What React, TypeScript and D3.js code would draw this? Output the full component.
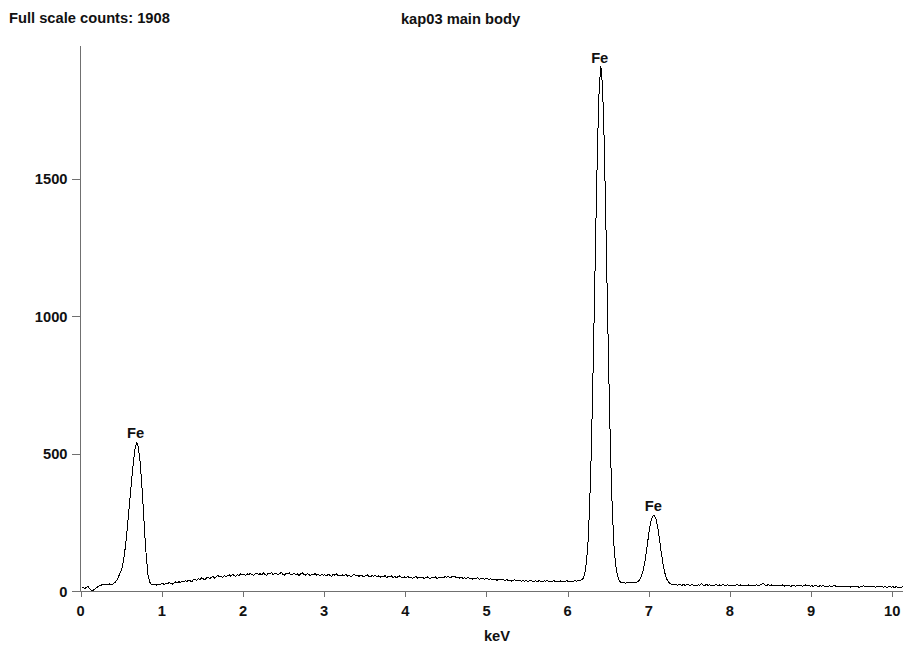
import React from "react";
import * as d3 from "d3";

// Spectrum channels: energy of channel i = START_KEV + i * STEP_KEV
const START_KEV = 0.01;
const STEP_KEV = 0.02;

const counts: number[] = [
  // 0.01 - 0.19
  10, 12, 9, 14, 16, 8, 3, 2, 6, 11,
  // 0.21 - 0.39
  15, 19, 21, 24, 22, 25, 23, 26, 24, 22,
  // 0.41 - 0.59
  28, 33, 42, 55, 68, 85, 115, 160, 215, 280,
  // 0.61 - 0.79
  345, 410, 470, 518, 542, 525, 475, 400, 305, 205,
  // 0.81 - 0.99
  118, 58, 32, 24, 22, 25, 21, 24, 23, 26,
  // 1.01 - 1.19
  27, 24, 29, 26, 31, 28, 25, 30, 33, 29,
  // 1.21 - 1.39
  34, 31, 36, 33, 38, 35, 40, 37, 34, 41,
  // 1.41 - 1.59
  43, 39, 45, 42, 48, 44, 41, 47, 50, 45,
  // 1.61 - 1.79
  49, 53, 47, 52, 56, 51, 54, 49, 57, 53,
  // 1.81 - 1.99
  55, 59, 54, 61, 57, 52, 60, 56, 62, 58,
  // 2.01 - 2.19
  61, 57, 63, 59, 64, 60, 56, 62, 65, 60,
  // 2.21 - 2.39
  63, 59, 66, 61, 57, 64, 62, 67, 60, 63,
  // 2.41 - 2.59
  65, 60, 63, 68, 61, 58, 64, 62, 66, 59,
  // 2.61 - 2.79
  61, 65, 59, 63, 57, 62, 66, 60, 58, 63,
  // 2.81 - 2.99
  60, 56, 62, 59, 64, 57, 61, 55, 60, 58,
  // 3.01 - 3.19
  59, 55, 61, 57, 53, 60, 58, 62, 56, 58,
  // 3.21 - 3.39
  55, 59, 56, 61, 54, 58, 52, 57, 60, 55,
  // 3.41 - 3.59
  57, 53, 58, 55, 51, 56, 59, 54, 52, 56,
  // 3.61 - 3.79
  53, 57, 51, 55, 50, 54, 52, 56, 49, 53,
  // 3.81 - 3.99
  51, 55, 49, 53, 48, 52, 55, 50, 47, 51,
  // 4.01 - 4.19
  49, 53, 48, 51, 46, 50, 53, 47, 51, 48,
  // 4.21 - 4.39
  50, 46, 49, 52, 47, 45, 50, 48, 51, 46,
  // 4.41 - 4.59
  49, 47, 51, 48, 52, 50, 53, 49, 51, 54,
  // 4.61 - 4.79
  52, 49, 51, 47, 50, 46, 48, 45, 49, 46,
  // 4.81 - 4.99
  47, 43, 46, 44, 48, 42, 45, 47, 43, 44,
  // 5.01 - 5.19
  45, 41, 44, 40, 43, 42, 39, 43, 41, 40,
  // 5.21 - 5.39
  41, 38, 42, 37, 40, 36, 39, 41, 37, 38,
  // 5.41 - 5.59
  39, 35, 38, 36, 40, 34, 37, 39, 35, 36,
  // 5.61 - 5.79
  37, 34, 38, 35, 33, 37, 36, 39, 34, 36,
  // 5.81 - 5.99
  35, 38, 33, 36, 34, 37, 32, 36, 35, 38,
  // 6.01 - 6.19
  34, 37, 33, 36, 38, 35, 39, 37, 41, 45,
  // 6.21 - 6.39
  62, 100, 170, 300, 490, 750, 1046, 1361, 1642, 1839,
  // 6.41 - 6.59
  1908, 1839, 1642, 1361, 1046, 750, 490, 300, 170, 100,
  // 6.61 - 6.79
  62, 42, 33, 29, 31, 28, 30, 32, 29, 31,
  // 6.81 - 6.99
  30, 31, 32, 35, 42, 54, 74, 102, 142, 186,
  // 7.01 - 7.19
  228, 258, 273, 275, 262, 232, 192, 148, 108, 75,
  // 7.21 - 7.39
  52, 38, 30, 26, 24, 22, 25, 21, 23, 22,
  // 7.41 - 7.59
  21, 24, 20, 23, 22, 19, 25, 21, 22, 20,
  // 7.61 - 7.79
  23, 21, 28, 22, 20, 24, 21, 23, 19, 22,
  // 7.81 - 7.99
  21, 24, 20, 22, 19, 23, 21, 20, 23, 19,
  // 8.01 - 8.19
  22, 20, 18, 21, 24, 20, 22, 19, 21, 20,
  // 8.21 - 8.39
  19, 22, 20, 18, 21, 19, 23, 20, 21, 25,
  // 8.41 - 8.59
  27, 22, 19, 24, 20, 22, 18, 21, 20, 19,
  // 8.61 - 8.79
  21, 19, 22, 18, 20, 21, 19, 17, 20, 19,
  // 8.81 - 8.99
  18, 20, 19, 21, 17, 19, 22, 18, 20, 17,
  // 9.01 - 9.19
  19, 17, 20, 18, 16, 19, 18, 20, 17, 18,
  // 9.21 - 9.39
  17, 19, 16, 18, 20, 17, 15, 18, 16, 17,
  // 9.41 - 9.59
  16, 18, 15, 17, 14, 16, 18, 15, 16, 14,
  // 9.61 - 9.79
  15, 17, 19, 16, 14, 18, 15, 17, 16, 14,
  // 9.81 - 9.99
  16, 18, 15, 17, 14, 16, 13, 15, 17, 14,
  // 10.01 - 10.13
  15, 13, 16, 12, 14, 13, 15,
];

const xTicks = [0, 1, 2, 3, 4, 5, 6, 7, 8, 9, 10];
const yTicks = [0, 500, 1000, 1500];

const peakEnergies = [0.69, 6.41, 7.07];
const peakCounts = [542, 1908, 275];
const peakNames = ["Fe", "Fe", "Fe"];

const titleLeft = "Full scale counts: 1908";
const titleCenter = "kap03 main body";
const xAxisTitle = "keV";

const X_MAX = 10.13;
const Y_MAX = 1983;

export default function App() {
  const width = 903;
  const height = 648;
  const x0 = 80.7;
  const x1 = 902.8;
  const yBottom = 591;
  const yTop = 46;

  const x = d3.scaleLinear().domain([0, X_MAX]).range([x0, x1]);
  const y = d3.scaleLinear().domain([0, Y_MAX]).range([yBottom, yTop]);

  const pts: [number, number][] = counts.map((c, i) => [START_KEV + i * STEP_KEV, c]);
  const line = d3
    .line<[number, number]>()
    .x((d) => x(d[0]))
    .y((d) => y(d[1]));

  const font = "'Liberation Sans', Arial, sans-serif";
  const textColor = "#111";
  const axisColor = "#707070";
  const fs = 14.7;

  return (
    <svg
      width={width}
      height={height}
      style={{ position: "absolute", left: 0, top: 0, background: "#fff" }}
      fontFamily={font}
      fontWeight="bold"
      fontSize={fs}
    >
      <rect x={0} y={0} width={width} height={height} fill="#fff" />
      {/* titles */}
      <text x={9} y={23.3} fill={textColor}>
        {titleLeft}
      </text>
      <text x={460.5} y={24} textAnchor="middle" fill={textColor} xmlSpace="preserve">
        {titleCenter}
      </text>

      {/* axes */}
      <line x1={80.5} x2={80.5} y1={yTop} y2={592} stroke={axisColor} strokeWidth={1} shapeRendering="crispEdges" />
      <line x1={80} x2={x1} y1={591.5} y2={591.5} stroke={axisColor} strokeWidth={1} shapeRendering="crispEdges" />

      {yTicks.map((t) => (
        <g key={"y" + t}>
          <line x1={72} x2={80} y1={Math.round(y(t)) + 0.5} y2={Math.round(y(t)) + 0.5} stroke={axisColor} shapeRendering="crispEdges" />
          <text x={67.5} y={y(t) + 5.5} textAnchor="end" fill={textColor}>
            {t}
          </text>
        </g>
      ))}

      {xTicks.map((t) => (
        <g key={"x" + t}>
          <line x1={Math.round(x(t)) + 0.5} x2={Math.round(x(t)) + 0.5} y1={592} y2={597} stroke={axisColor} shapeRendering="crispEdges" />
          <text x={x(t)} y={616} textAnchor="middle" fill={textColor}>
            {t}
          </text>
        </g>
      ))}

      <text x={497} y={641} textAnchor="middle" fill={textColor}>
        {xAxisTitle}
      </text>

      {/* spectrum */}
      <path
        d={line(pts) || ""}
        fill="none"
        stroke="#000"
        strokeWidth={1}
        strokeLinejoin="round"
        shapeRendering="crispEdges"
      />

      {/* peak labels */}
      {peakEnergies.map((e, i) => (
        <text key={"p" + i} x={x(e) - 1.2} y={y(peakCounts[i]) - 4} textAnchor="middle" fill={textColor}>
          {peakNames[i]}
        </text>
      ))}
    </svg>
  );
}
